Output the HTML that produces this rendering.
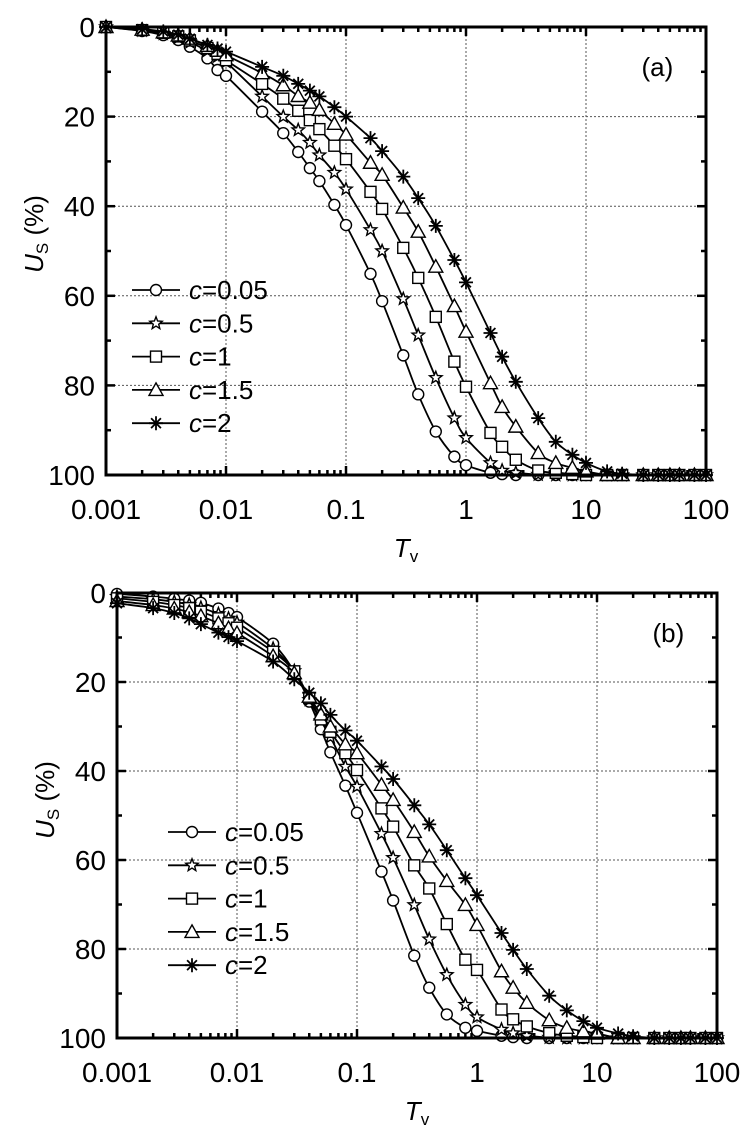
<!DOCTYPE html><html><head><style>body{margin:0;background:#fff}svg text{font-family:"Liberation Sans",sans-serif}</style></head><body>
<svg id="s" width="753" height="1140" xmlns="http://www.w3.org/2000/svg"></svg>
<script>
const S=document.getElementById('s');let h='';
function mk(k,x,y){const s='fill="#fff" stroke="#000" stroke-width="1.4"';
 if(k==0)return `<circle cx="${x}" cy="${y}" r="5.5" ${s}/>`;
 if(k==2)return `<rect x="${x-5.5}" y="${y-5.5}" width="11" height="11" ${s}/>`;
 if(k==3)return `<polygon points="${x},${y-7} ${x+7},${y+5.5} ${x-7},${y+5.5}" ${s}/>`;
 if(k==1){let p='';for(let i=0;i<10;i++){let r=i%2?2.8:6.5,a=-Math.PI/2+i*Math.PI/5;p+=(x+r*Math.cos(a)).toFixed(1)+','+(y+r*Math.sin(a)).toFixed(1)+' ';}return `<polygon points="${p}" ${s}/>`;}
 let p='';for(let i=0;i<4;i++){let a=i*Math.PI/4;p+=`M${(x-7*Math.cos(a)).toFixed(1)},${(y-7*Math.sin(a)).toFixed(1)}L${(x+7*Math.cos(a)).toFixed(1)},${(y+7*Math.sin(a)).toFixed(1)}`;}return `<path d="${p}" stroke="#000" stroke-width="1.8"/>`;}
function plot(L,T,W,H,curves,tag,legX,legY){
 const R=L+W,B=T+H;const X=t=>L+(Math.log10(t)+3)/5*W;const Y=u=>T+u/100*H;
 for(let d=1;d<5;d++){let x=L+d*W/5;h+=`<line x1="${x}" y1="${T}" x2="${x}" y2="${B}" stroke="#555" stroke-width="1" stroke-dasharray="2,2"/>`;}
 for(let u=20;u<100;u+=20){h+=`<line x1="${L}" y1="${Y(u)}" x2="${R}" y2="${Y(u)}" stroke="#555" stroke-width="1" stroke-dasharray="2,2"/>`;}
 for(let d=0;d<=5;d++){let x=L+d*W/5;h+=`<line x1="${x}" y1="${T}" x2="${x}" y2="${T+9}" stroke="#000" stroke-width="2.5"/><line x1="${x}" y1="${B}" x2="${x}" y2="${B-9}" stroke="#000" stroke-width="2.5"/>`;
  h+=`<text x="${x}" y="${B+44}" font-size="28" text-anchor="middle">${['0.001','0.01','0.1','1','10','100'][d]}</text>`;
  if(d<5)for(let m=2;m<10;m++){let xx=L+(d+Math.log10(m))*W/5;h+=`<line x1="${xx}" y1="${T}" x2="${xx}" y2="${T+5}" stroke="#000" stroke-width="2.5"/><line x1="${xx}" y1="${B}" x2="${xx}" y2="${B-5}" stroke="#000" stroke-width="2.5"/>`;}}
 for(let u=0;u<=100;u+=10){let l=u%20?5:9;h+=`<line x1="${L}" y1="${Y(u)}" x2="${L+l}" y2="${Y(u)}" stroke="#000" stroke-width="2.5"/><line x1="${R}" y1="${Y(u)}" x2="${R-l}" y2="${Y(u)}" stroke="#000" stroke-width="2.5"/>`;
  if(u%20==0)h+=`<text x="${L-11}" y="${Y(u)+10}" font-size="28" text-anchor="end">${u}</text>`;}
 curves.forEach((tb,k)=>{const pts=tb.map(([t,u])=>[X(t),Y(u)]);
  const tail=[15,20,30,40,50,60,80,100];let last=tb[tb.length-1][0];tail.forEach(t=>{if(t>last)pts.push([X(t),Y(100)]);});
  let p=`M${pts[0][0].toFixed(1)},${pts[0][1].toFixed(1)}`;
  for(let i=0;i<pts.length-1;i++){const p0=pts[Math.max(0,i-1)],p1=pts[i],p2=pts[i+1],p3=pts[Math.min(pts.length-1,i+2)];
   const c1=[p1[0]+(p2[0]-p0[0])/6,p1[1]+(p2[1]-p0[1])/6],c2=[p2[0]-(p3[0]-p1[0])/6,p2[1]-(p3[1]-p1[1])/6];
   p+=`C${c1[0].toFixed(1)},${Math.min(B,c1[1]).toFixed(1)} ${c2[0].toFixed(1)},${Math.min(B,c2[1]).toFixed(1)} ${p2[0].toFixed(1)},${p2[1].toFixed(1)}`;}
  h+=`<path d="${p}" fill="none" stroke="#000" stroke-width="1.8"/>`;
  pts.forEach(q=>{h+=mk(k,q[0],q[1]);});});
 h+=`<rect x="${L}" y="${T}" width="${W}" height="${H}" fill="none" stroke="#000" stroke-width="3"/>`;
 h+=`<text x="${L+W*0.919}" y="${T+49}" font-size="26" text-anchor="middle">${tag}</text>`;
 ['0.05','0.5','1','1.5','2'].forEach((v,i)=>{let y=legY+i*33.3;h+=`<line x1="${legX}" y1="${y}" x2="${legX+48}" y2="${y}" stroke="#000" stroke-width="1.8"/>`+mk(i,legX+24,y)+`<text x="${legX+57}" y="${y+9}" font-size="26"><tspan font-style="italic">c</tspan>=${v}</text>`;});
 h+=`<text x="${(L+R)/2}" y="${B+82}" font-size="26" text-anchor="middle"><tspan font-style="italic">T</tspan><tspan font-size="17" dy="5">v</tspan></text>`;
 h+=`<text transform="translate(${L-63},${T+207}) rotate(-90)" font-size="26" text-anchor="middle"><tspan font-style="italic">U</tspan><tspan font-size="17" dy="5">S</tspan><tspan dy="-5"> (%)</tspan></text>`;
}
const A=[
[[0.001,0],[0.002,0.9],[0.003,1.8],[0.004,2.9],[0.005,4.4],[0.007,7],[0.0085,9.6],[0.01,10.9],[0.02,18.9],[0.03,23.7],[0.04,27.9],[0.05,31.5],[0.06,34.4],[0.08,39.7],[0.1,44.2],[0.16,55.1],[0.2,61.2],[0.3,73.3],[0.4,82],[0.56,90.3],[0.8,95.9],[1,97.8],[1.6,99.5],[2,99.8],[2.6,100],[4,100],[5.6,100],[7.7,100],[10,100]],
[[0.001,0],[0.002,0.8],[0.003,1.5],[0.004,2.4],[0.005,3.4],[0.007,5.3],[0.0085,6.6],[0.01,7.8],[0.02,15.5],[0.03,20],[0.04,23],[0.05,25.8],[0.06,28.6],[0.08,32.5],[0.1,36.2],[0.16,45.3],[0.2,50],[0.3,60.7],[0.4,68.8],[0.56,78.3],[0.8,87.3],[1,91.7],[1.6,97.3],[2,99],[2.6,99.5],[4,99.9],[5.6,100],[7.7,100],[10,100]],
[[0.001,0],[0.002,0.7],[0.003,1.3],[0.004,2.1],[0.005,3],[0.007,4.7],[0.0085,6],[0.01,7.4],[0.02,12.7],[0.03,16],[0.04,18.7],[0.05,20.8],[0.06,22.8],[0.08,26.5],[0.1,29.5],[0.16,36.8],[0.2,40.6],[0.3,49.3],[0.4,56],[0.56,64.7],[0.8,74.7],[1,80.3],[1.6,90.6],[2,93.7],[2.6,96.6],[4,99],[5.6,99.5],[7.7,99.8],[10,100]],
[[0.001,0],[0.002,0.6],[0.003,1.2],[0.004,1.9],[0.005,2.6],[0.007,4.2],[0.0085,5.3],[0.01,6.3],[0.02,10.3],[0.03,13],[0.04,15.4],[0.05,16.9],[0.06,18.5],[0.08,21.6],[0.1,24],[0.16,30.3],[0.2,33],[0.3,40.3],[0.4,45.7],[0.56,53.5],[0.8,62.3],[1,68],[1.6,79.5],[2,84.8],[2.6,89.2],[4,95.1],[5.6,97.3],[7.7,98.4],[10,99.2]],
[[0.001,0],[0.002,0.5],[0.003,1],[0.004,1.7],[0.005,2.6],[0.007,4],[0.0085,4.8],[0.01,5.5],[0.02,8.9],[0.03,10.9],[0.04,12.7],[0.05,14.2],[0.06,15.5],[0.08,17.9],[0.1,20],[0.16,24.8],[0.2,27.7],[0.3,33.4],[0.4,38.2],[0.56,44.4],[0.8,52],[1,57],[1.6,68.3],[2,73.6],[2.6,79.2],[4,87.3],[5.6,92.6],[7.7,95.5],[10,97.3],[15,99.2],[20,99.7]]];
const Bd=[
[[0.001,0.2],[0.002,0.8],[0.003,1.3],[0.004,1.7],[0.005,2.2],[0.007,3.5],[0.0085,4.5],[0.01,5.4],[0.02,11.4],[0.03,17.7],[0.04,24.4],[0.05,30.6],[0.06,35.8],[0.08,43.3],[0.1,49.4],[0.16,62.6],[0.2,69.1],[0.3,81.5],[0.4,88.7],[0.56,94.7],[0.8,97.7],[1,98.4],[1.6,99.5],[2,99.8],[2.6,100],[4,100],[5.6,100],[7.7,100],[10,100]],
[[0.001,0.8],[0.002,1.4],[0.003,2],[0.004,2.6],[0.005,3.3],[0.007,4.7],[0.0085,5.7],[0.01,6.6],[0.02,12.5],[0.03,17.5],[0.04,24],[0.05,28.7],[0.06,32.4],[0.08,39],[0.1,43.5],[0.16,54.1],[0.2,59.5],[0.3,70.1],[0.4,77.8],[0.56,85.8],[0.8,92.5],[1,95.3],[1.6,98.1],[2,98.9],[2.6,99.5],[4,99.9],[5.6,100],[7.7,100],[10,100]],
[[0.001,1.2],[0.002,2],[0.003,2.7],[0.004,3.4],[0.005,4.2],[0.007,5.7],[0.0085,6.8],[0.01,7.8],[0.02,13.2],[0.03,17.6],[0.04,23.6],[0.05,28.4],[0.06,31.2],[0.08,36],[0.1,39.8],[0.16,48.4],[0.2,52.5],[0.3,61.2],[0.4,66.4],[0.56,74.4],[0.8,82.4],[1,84.7],[1.6,93.6],[2,95.8],[2.6,97.4],[4,98.9],[5.6,99.5],[7.7,99.8],[10,100]],
[[0.001,1.8],[0.002,2.7],[0.003,3.5],[0.004,4.3],[0.005,5.2],[0.007,6.8],[0.0085,7.9],[0.01,9],[0.02,14.2],[0.03,18],[0.04,23.3],[0.05,27.3],[0.06,30],[0.08,34],[0.1,36],[0.16,43.1],[0.2,46.5],[0.3,53.7],[0.4,59.2],[0.56,64.7],[0.8,70.1],[1,74.6],[1.6,85],[2,88.7],[2.6,92.1],[4,96],[5.6,97.7],[7.7,98.5],[10,99]],
[[0.001,2.3],[0.002,3.4],[0.003,4.5],[0.004,5.7],[0.005,7],[0.007,8.9],[0.0085,9.9],[0.01,10.8],[0.02,15.4],[0.03,19.4],[0.04,22.4],[0.05,24.8],[0.06,27.4],[0.08,30.9],[0.1,33.2],[0.16,39],[0.2,41.8],[0.3,47.7],[0.4,52],[0.56,57.8],[0.8,64.1],[1,67.9],[1.6,76.4],[2,80.2],[2.6,84.5],[4,90.5],[5.6,93.8],[7.7,96.2],[10,97.7],[15,99],[20,99.6]]];
plot(106,27,600,448,A,'(a)',132,290);
plot(117,593,600,445,Bd,'(b)',168,832);
S.innerHTML=h;
</script></body></html>
